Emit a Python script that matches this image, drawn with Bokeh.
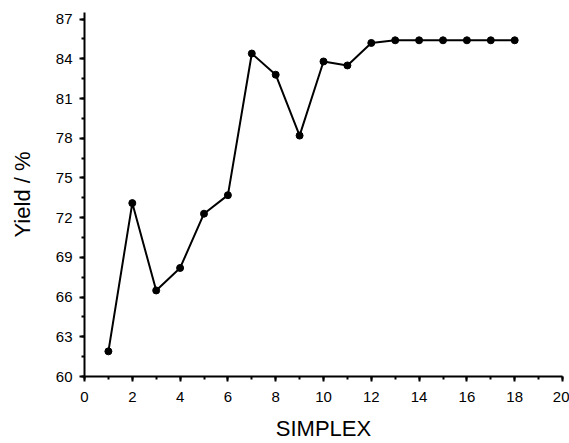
from bokeh.plotting import figure
from bokeh.models import SingleIntervalTicker, Range1d
from bokeh.embed import file_html
from bokeh.resources import INLINE

simplex = [1, 2, 3, 4, 5, 6, 7, 8, 9, 10, 11, 12, 13, 14, 15, 16, 17, 18]
yield_pct = [61.9, 73.1, 66.5, 68.2, 72.3, 73.7, 84.4, 82.8, 78.2, 83.8, 83.5,
             85.2, 85.4, 85.4, 85.4, 85.4, 85.4, 85.4]

p = figure(width=569, height=443, output_backend="svg", toolbar_location=None,
           x_range=Range1d(0, 20), y_range=Range1d(60, 87.5),
           min_border_left=84, min_border_right=7, min_border_top=12, min_border_bottom=66)
p.outline_line_color = None
p.xgrid.visible = False
p.ygrid.visible = False

p.line(simplex, yield_pct, line_color="black", line_width=2)
p.scatter(simplex, yield_pct, size=7, fill_color="black", line_color="black")

p.xaxis.ticker = SingleIntervalTicker(interval=2, num_minor_ticks=2)
p.yaxis.ticker = SingleIntervalTicker(interval=3, num_minor_ticks=2)
p.xaxis.axis_label = "SIMPLEX"
p.yaxis.axis_label = "Yield / %"
for ax in (p.xaxis, p.yaxis):
    ax.axis_line_width = 2
    ax.major_tick_line_width = 2
    ax.minor_tick_line_width = 2
    ax.major_tick_out = 5
    ax.major_tick_in = 0
    ax.minor_tick_out = 3
    ax.minor_tick_in = 0
    ax.major_label_text_font = "Liberation Sans"
    ax.major_label_text_font_size = "15px"
    ax.major_label_text_color = "black"
    ax.major_label_standoff = 7
    ax.axis_label_text_font = "Liberation Sans"
    ax.axis_label_text_font_style = "normal"
    ax.axis_label_text_font_size = "22px"
    ax.axis_label_text_color = "black"
p.xaxis.major_label_standoff = 10
p.xaxis.axis_label_standoff = 11
p.yaxis.axis_label_standoff = 18

open("out.html", "w").write(file_html(p, INLINE))
